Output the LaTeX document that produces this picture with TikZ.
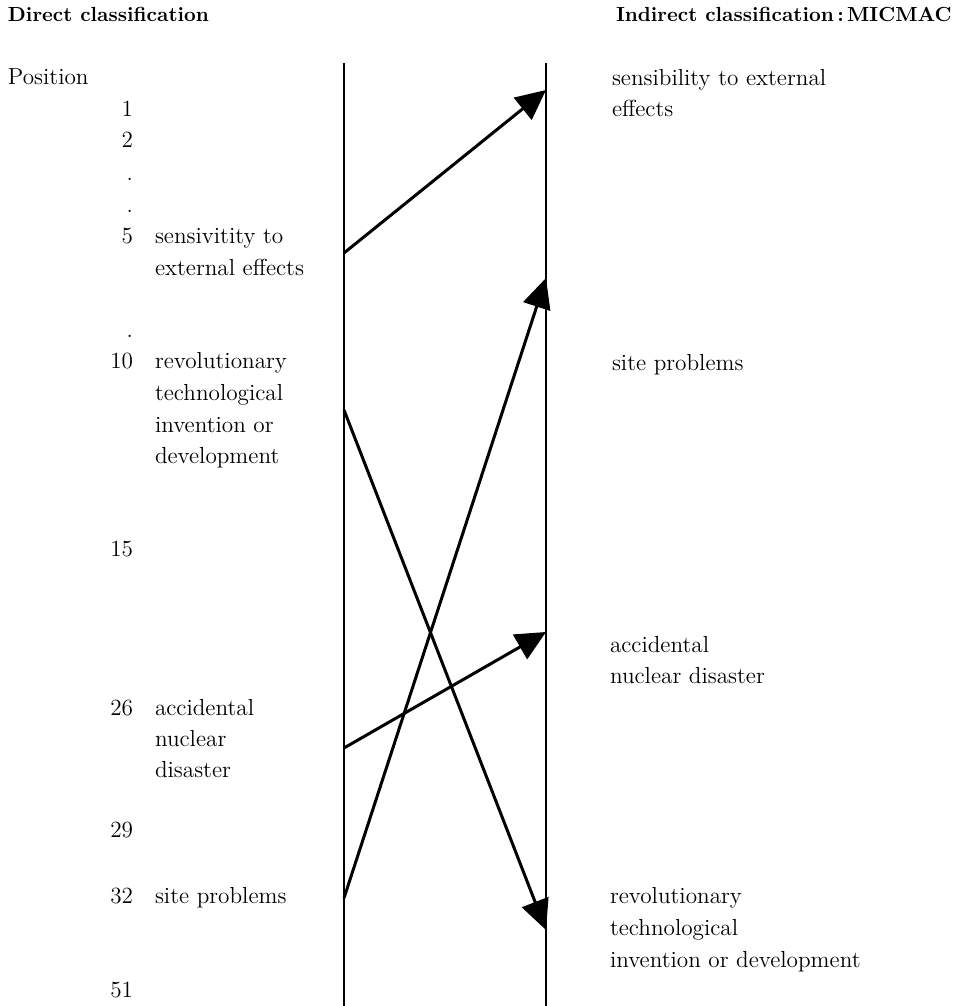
\documentclass[tikz,border=0pt]{standalone}
\usetikzlibrary{arrows.meta}
\begin{document}
\begin{tikzpicture}[x=0.5pt,y=-0.5pt,
  every node/.style={inner sep=0pt,outer sep=0pt},
  body/.style={font=\fontsize{11.6}{14}\selectfont},
  lbl/.style={body,anchor=base west},
  num/.style={body,anchor=base east},
  head/.style={font=\fontsize{10.2}{12}\selectfont\bfseries,anchor=base west},
  axis/.style={line width=1.1pt},
  arr/.style={line width=1.5pt,-{Triangle[length=15pt,width=14pt]}}]
\useasboundingbox (0,0) rectangle (956,1006);
% headers
\node[head] (hL) at (8,22) {Direct classification};
\node[head] (hR) at (616,22) {Indirect classification\,:\,MICMAC};
\node[lbl] (pos) at (8,85) {Position};
% numbers
\node[num] (n1) at (133,117) {1};
\node[num] (n2) at (133,148) {2};
\node[num] (d1) at (133,180) {.};
\node[num] (d2) at (133,212) {.};
\node[num] (n5) at (133,243) {5};
\node[num] (d3) at (133,337) {.};
\node[num] (n10) at (133,368) {10};
\node[num] (n15) at (133,556) {15};
\node[num] (n26) at (133,715) {26};
\node[num] (n29) at (133,837) {29};
\node[num] (n32) at (133,903) {32};
\node[num] (n51) at (133,997) {51};
% left labels
\node[lbl] (l5a) at (155,243) {sensivitity to};
\node[lbl] (l5b) at (155,275) {external effects};
\node[lbl] (l10a) at (155,368) {revolutionary};
\node[lbl] (l10b) at (155,400) {technological};
\node[lbl] (l10c) at (155,432) {invention or};
\node[lbl] (l10d) at (155,463) {development};
\node[lbl] (l26a) at (155,715) {accidental};
\node[lbl] (l26b) at (155,746) {nuclear};
\node[lbl] (l26c) at (155,777) {disaster};
\node[lbl] (l32) at (155,903) {site problems};
% right labels
\node[lbl] (r1a) at (612,86) {sensibility to external};
\node[lbl] (r1b) at (612,117) {effects};
\node[lbl] (r2) at (612,370) {site problems};
\node[lbl] (r3a) at (610,652) {accidental};
\node[lbl] (r3b) at (610,683) {nuclear disaster};
\node[lbl] (r4a) at (610,903) {revolutionary};
\node[lbl] (r4b) at (610,935) {technological};
\node[lbl] (r4c) at (610,967) {invention or development};
% axes
\coordinate (Ltop) at (344,63);
\coordinate (Lbot) at (344,1006);
\coordinate (Rtop) at (546,63);
\coordinate (Rbot) at (546,1006);
\draw[axis] (Ltop) -- (Lbot);
\draw[axis] (Rtop) -- (Rbot);
% arrow endpoints
\coordinate (s5) at (344,253);
\coordinate (e1) at (546,90);
\coordinate (s10) at (344,410);
\coordinate (e51) at (546,930);
\coordinate (s26) at (344,748);
\coordinate (e26) at (546,632);
\coordinate (s32) at (344,898);
\coordinate (e32) at (546,278);
\draw[arr] (s5) -- (e1);
\draw[arr] (s10) -- (e51);
\draw[arr] (s26) -- (e26);
\draw[arr] (s32) -- (e32);
\end{tikzpicture}
\end{document}
